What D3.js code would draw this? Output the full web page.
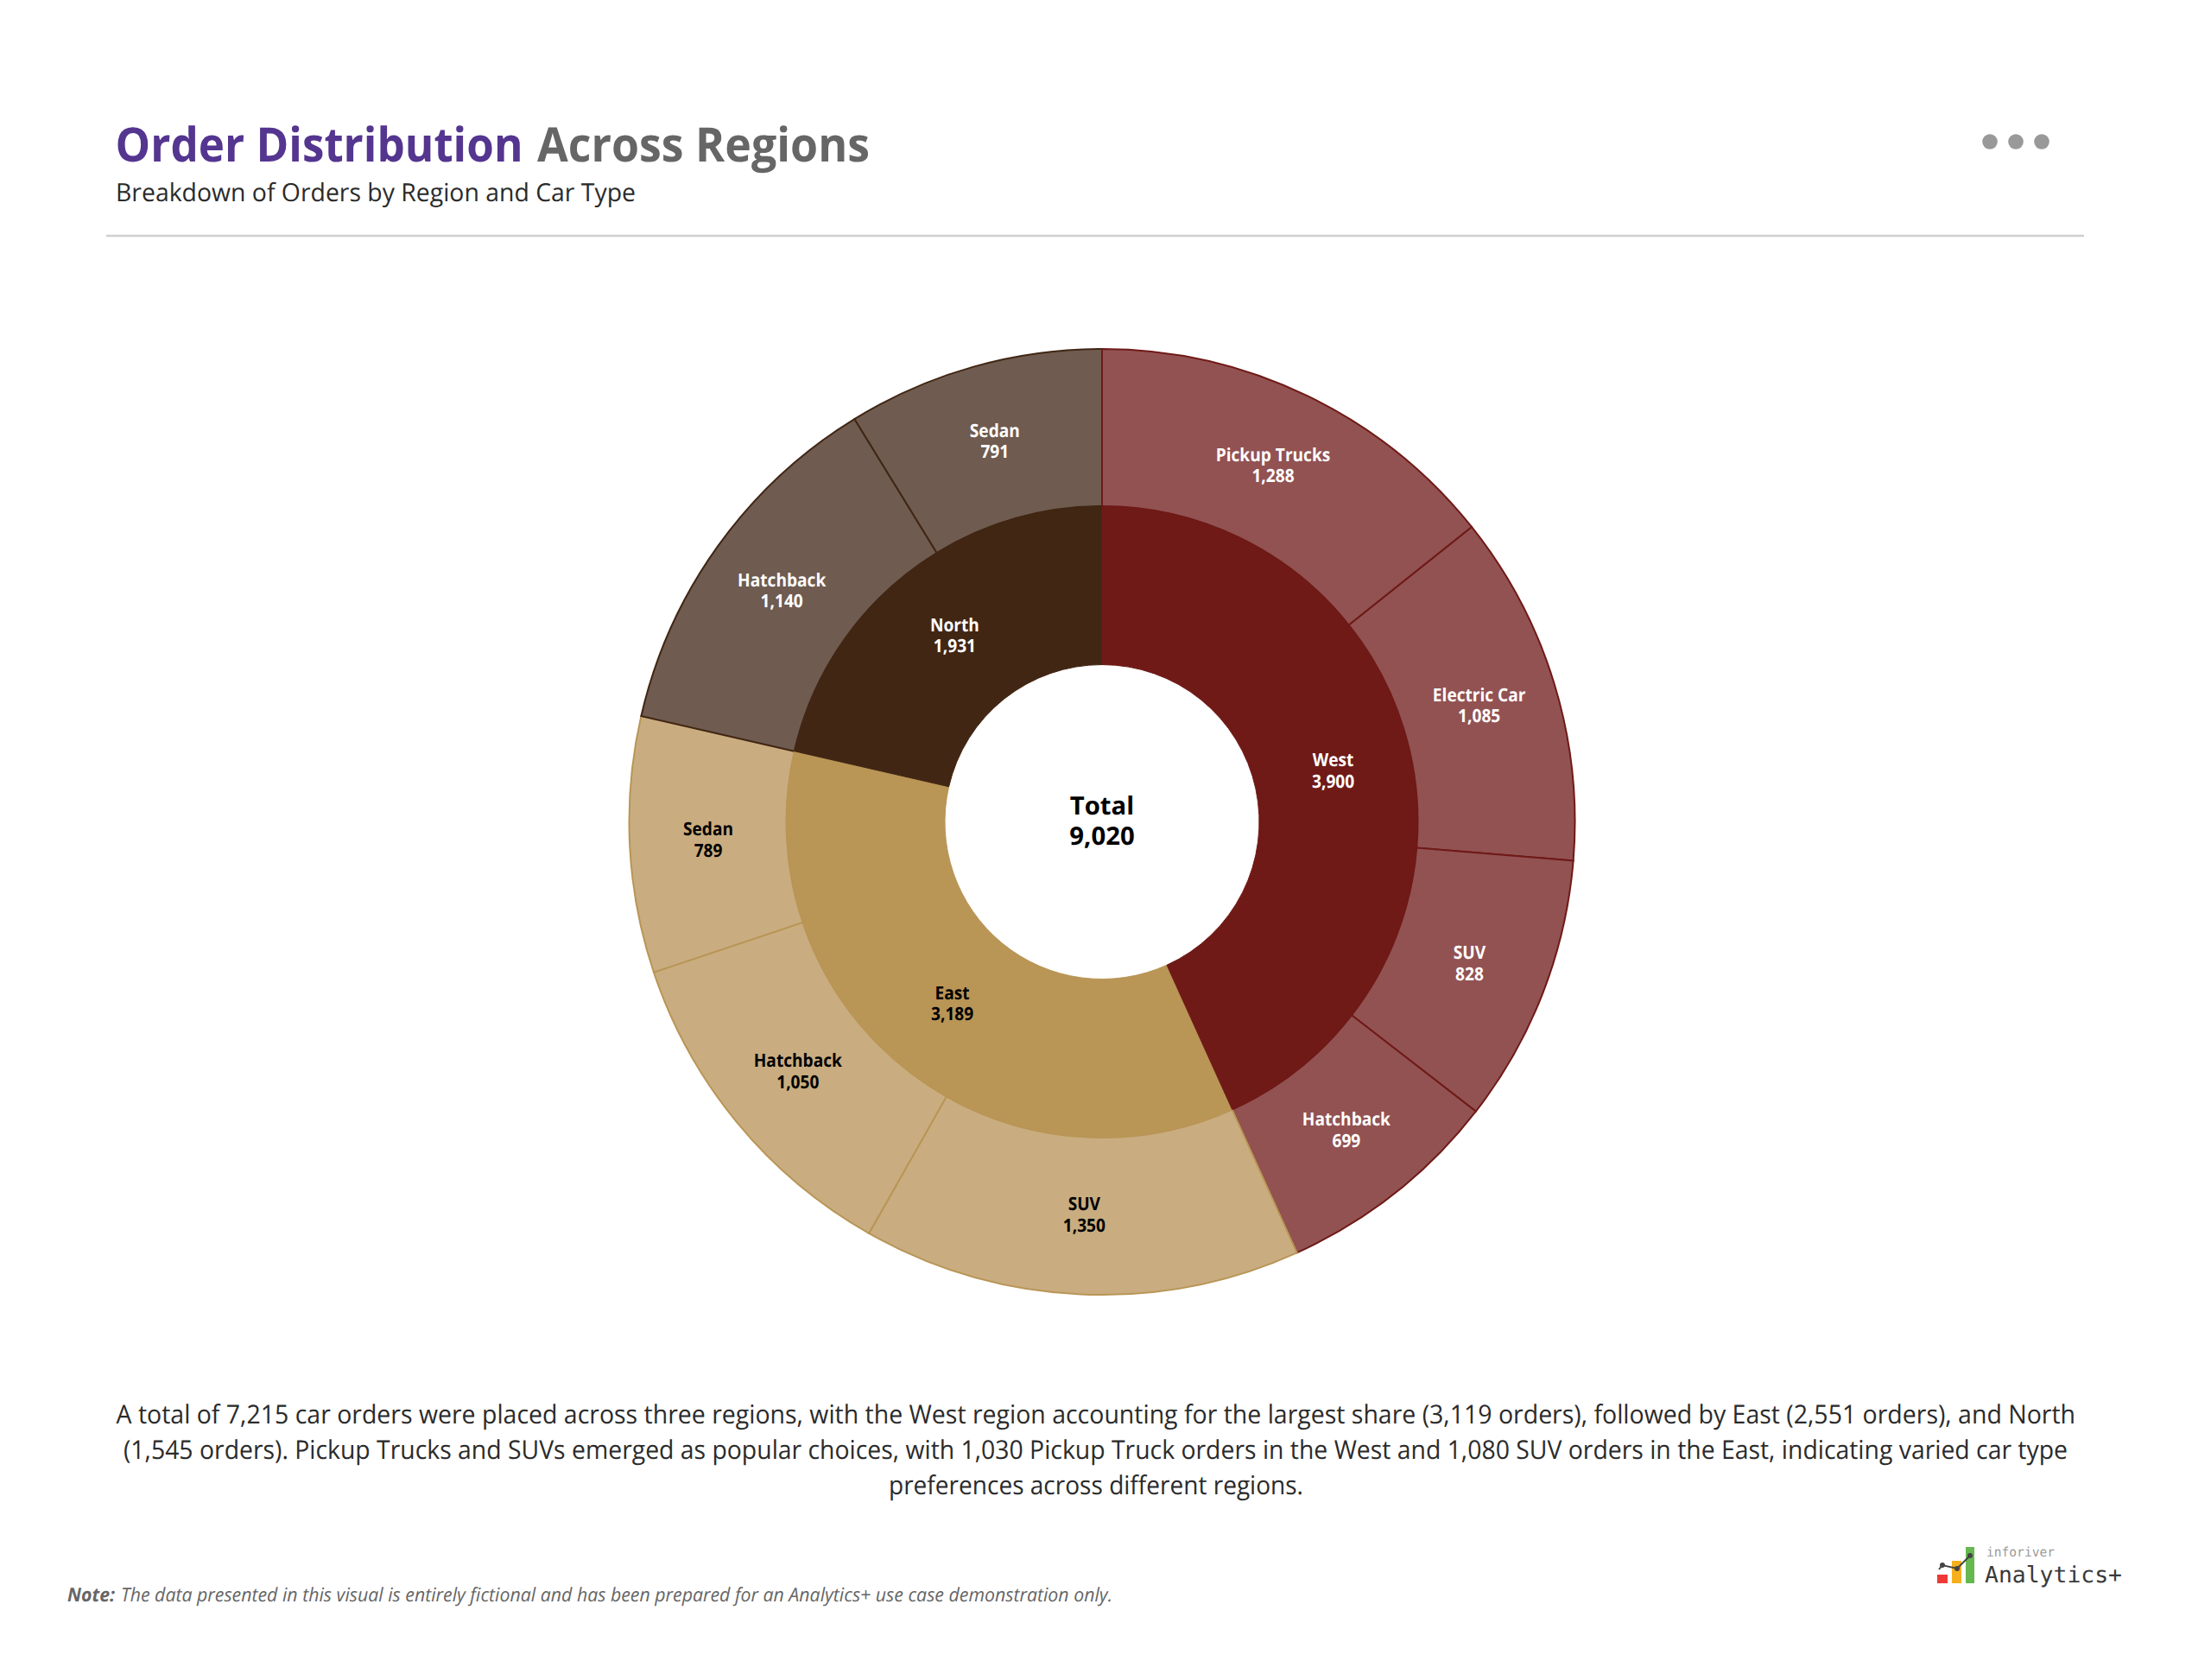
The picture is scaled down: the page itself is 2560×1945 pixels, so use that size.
<!DOCTYPE html>
<html><head><meta charset="utf-8">
<script src="https://cdn.jsdelivr.net/npm/d3@7"></script>
<style>html,body{margin:0;padding:0;background:#fff}svg{display:block}text{font-family:"Open Sans",sans-serif;text-rendering:geometricPrecision}</style>
</head><body><svg id="c" width="2560" height="1945"></svg>
<script>
const regions = ["West","East","North"];
const regionValues = [3900,3189,1931];
const regionColors = ["#6F1A17","#B99556","#412614"];
const typeColors = ["#925252","#C9AD80","#6F5B4F"];
const labelColors = ["#fff","#000","#fff"];
const carTypes = [["Pickup Trucks","Electric Car","SUV","Hatchback"],["SUV","Hatchback","Sedan"],["Hatchback","Sedan"]];
const carValues = [[1288,1085,828,699],[1350,1050,789],[1140,791]];
const totalLabel = "Total";
const totalValue = 9020;
const bodyLines = [
 "A total of 7,215 car orders were placed across three regions, with the West region accounting for the largest share (3,119 orders), followed by East (2,551 orders), and North",
 "(1,545 orders). Pickup Trucks and SUVs emerged as popular choices, with 1,030 Pickup Truck orders in the West and 1,080 SUV orders in the East, indicating varied car type",
 "preferences across different regions."];
const bodyStarts = [134.5,143,1029];
const bodyWidths = [2268.5,2251,480];
const bodyBaselines = [1648,1689,1730];

const svg = d3.select("#c");
const fmt = d3.format(",");
const cx = 1276, cy = 951.5, R0 = 182, R1 = 365.5, R2 = 547.5;

// Place a text with its left edge at x and stretch it to width w (or to f times its natural width).
function put(parent,t,x,y,size,opt={}){
  const s=parent.append("text").attr("font-size",size).attr("font-weight",opt.weight||400).attr("fill",opt.fill||"#000").text(t);
  if(opt.italic) s.attr("font-style","italic");
  if(opt.family) s.style("font-family",opt.family);
  const n=s.node().getComputedTextLength();
  const w=opt.w||n*(opt.f||1);
  const x0=opt.middle?x-w/2:x;
  s.attr("transform",`translate(${x0},${y}) scale(${w/n},1)`);
  return s;
}

// header
put(svg,"Order Distribution",133.5,187,55,{weight:700,fill:"#54358F",w:472});
put(svg,"Across Regions",622,187,55,{weight:700,fill:"#666666",w:385});
put(svg,"Breakdown of Orders by Region and Car Type",134,233,29,{fill:"#2b2b2b",w:602});
svg.append("line").attr("x1",123).attr("x2",2413).attr("y1",273).attr("y2",273).attr("stroke","#cfcfcf").attr("stroke-width",2.5);
svg.selectAll("circle.menu").data([2304,2334,2364]).join("circle").attr("class","menu").attr("cx",d=>d).attr("cy",164).attr("r",8.8).attr("fill","#999");

// sunburst
const g = svg.append("g").attr("transform",`translate(${cx},${cy})`);
const pie = d3.pie().sort(null).startAngle(0).endAngle(2*Math.PI);
const inner = pie(regionValues).map((a,i)=>({...a,region:i,name:regions[i]}));
const outerData = carValues.flatMap((vals,r)=>vals.map((v,j)=>({v,r,name:carTypes[r][j]})));
const outer = pie.value(d=>d.v)(outerData).map(a=>({...a,value:a.data.v,region:a.data.r,name:a.data.name}));
const arcIn = d3.arc().innerRadius(R0).outerRadius(R1);
const arcOut = d3.arc().innerRadius(R1).outerRadius(R2);
// the first slice is painted last so its border sits on top at twelve o'clock
const paintOrder = arr=>[...arr.slice(1),arr[0]];
g.selectAll("path.o").data(paintOrder(outer)).join("path").attr("class","o").attr("d",arcOut)
  .attr("fill",d=>typeColors[d.region]).attr("stroke",d=>regionColors[d.region]).attr("stroke-width",2);
g.selectAll("path.i").data(paintOrder(inner)).join("path").attr("class","i").attr("d",arcIn)
  .attr("fill",d=>regionColors[d.region]).attr("stroke",d=>regionColors[d.region]).attr("stroke-width",1);

function label(d,arc){
  const [x,y]=arc.centroid(d);
  const o={weight:700,fill:labelColors[d.region],f:0.91,middle:true};
  put(g,d.name,x,y-6.5,21,o);
  put(g,fmt(d.value),x,y+18,21,o);
}
inner.forEach(d=>label(d,arcIn));
outer.forEach(d=>label(d,arcOut));
put(g,totalLabel,0,-8.5,29,{weight:700,f:1.01,middle:true});
put(g,fmt(totalValue),0,26.5,29,{weight:700,f:1.01,middle:true});

// commentary
bodyLines.forEach((t,i)=>put(svg,t,bodyStarts[i],bodyBaselines[i],30,{fill:"#2b2b2b",w:bodyWidths[i]}));
put(svg,"Note:",78,1854,22,{weight:700,italic:true,fill:"#666",w:55});
put(svg,"The data presented in this visual is entirely fictional and has been prepared for an Analytics+ use case demonstration only.",140,1854,22,{italic:true,fill:"#666",w:1148});

// logo
const logo = svg.append("g");
logo.selectAll("rect").data([{x:2243,y:1823,w:12,h:10,c:"#EE3A36"},{x:2260,y:1807,w:11,h:26,c:"#F6B01E"},{x:2276,y:1791,w:10,h:42,c:"#66B850"}])
 .join("rect").attr("x",d=>d.x).attr("y",d=>d.y).attr("width",d=>d.w).attr("height",d=>d.h).attr("fill",d=>d.c);
logo.append("path").attr("d",d3.line()([[2245,1817],[2249,1812],[2266,1816],[2281,1801]])).attr("fill","none").attr("stroke","#444").attr("stroke-width",2);
logo.selectAll("circle").data([[2249,1812],[2266,1816],[2281,1801]]).join("circle").attr("cx",d=>d[0]).attr("cy",d=>d[1]).attr("r",3).attr("fill","#444");
put(logo,"inforiver",2300,1802,15,{family:"DejaVu Sans Mono",fill:"#9a9a9a",w:79});
put(logo,"Analytics+",2298,1832,26,{family:"DejaVu Sans Mono",fill:"#3a3a3a",w:159});
</script></body></html>
